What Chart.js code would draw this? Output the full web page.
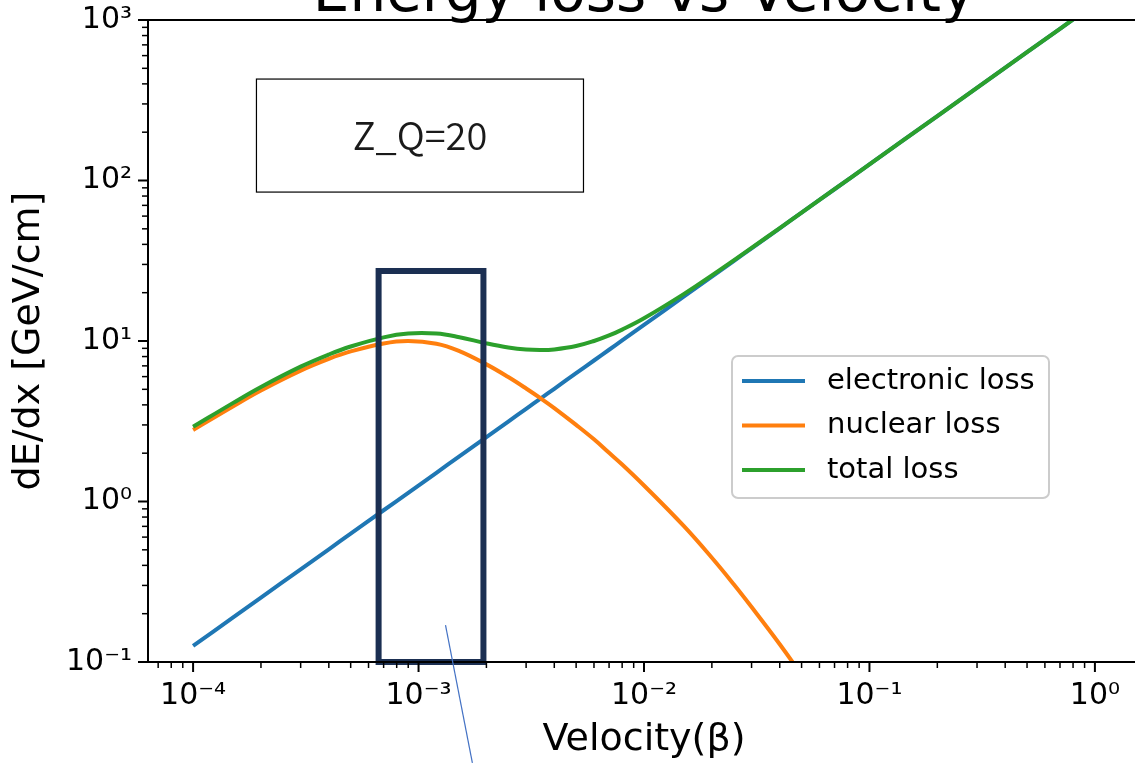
<!DOCTYPE html>
<html>
<head>
<meta charset="utf-8">
<script src="https://cdn.jsdelivr.net/npm/chart.js@4.4.1/dist/chart.umd.min.js"></script>
<style>
  html, body { margin: 0; padding: 0; background: #fff; overflow: hidden; }
  #wrap { width: 1140px; height: 763px; }
</style>
</head>
<body>
<div id="wrap"><canvas id="lossChart" width="1140" height="763"></canvas></div>
<script>
// velocity samples (beta) and the losses in GeV/cm
const beta = [1e-4, 1.5e-4, 2e-4, 3e-4, 4e-4, 5e-4, 7e-4, 9e-4, 1.2e-3, 1.5e-3, 2e-3, 2.5e-3,
  3e-3, 3.5e-3, 4e-3, 5e-3, 6e-3, 7e-3, 8e-3, 1e-2, 1.5e-2, 2e-2, 2.5e-2, 3e-2, 4e-2, 5e-2,
  7e-2, 0.1, 0.2, 0.5, 1.0];
const electronicLoss = [0.126, 0.189, 0.252, 0.378, 0.504, 0.63, 0.882, 1.13, 1.51, 1.89, 2.52, 3.15,
  3.78, 4.41, 5.04, 6.3, 7.56, 8.82, 10.08, 12.6, 18.9, 25.2, 31.5, 37.8, 50.4, 63,
  88.2, 126, 252, 630, 1260];
const nuclearLoss = [2.79, 3.91, 4.92, 6.54, 7.74, 8.61, 9.66, 10.0, 9.61, 8.71, 7.15, 5.96,
  5.06, 4.37, 3.82, 3.0, 2.44, 2.01, 1.70, 1.258, 0.704, 0.446, 0.305, 0.22, 0.129, 0.083,
  0.0414, 0.0195, 0.0047, 0.00075, 0.00019];
const totalLoss = [2.92, 4.10, 5.17, 6.92, 8.24, 9.24, 10.54, 11.13, 11.12, 10.60, 9.67, 9.11,
  8.84, 8.78, 8.86, 9.30, 10.0, 10.83, 11.78, 13.86, 19.60, 25.65, 31.81, 38.02, 50.53, 63.08,
  88.24, 126, 252, 630, 1260];

const seriesNames = ['electronic loss', 'nuclear loss', 'total loss'];
const seriesColors = ['#1f77b4', '#ff7f0e', '#2ca02c'];

const xTickValues = [1e-4, 1e-3, 1e-2, 1e-1, 1];
const xTickLabels = ['10⁻⁴', '10⁻³', '10⁻²', '10⁻¹', '10⁰'];
const yTickValues = [0.1, 1, 10, 100, 1000];
const yTickLabels = ['10⁻¹', '10⁰', '10¹', '10²', '10³'];

// highlight band, pointer stroke and the Z_Q note (data units)
const bandX = [6.65e-4, 1.94e-3];
const bandY = [0.1, 27.3];
const pointerX = [1.317e-3, 1.733e-3];
const pointerY = [0.170, 0.0235];
const noteX = [1.91e-4, 5.39e-3];
const noteY = [84.7, 428.6];
const noteText = 'Z_Q=20';
const titleText = 'Energy loss vs Velocity';

const toPoints = (ys) => beta.map((b, i) => ({ x: b, y: ys[i] }));

// spines, log ticks (major + minor), title, legend, annotations
const decorations = {
  id: 'decorations',
  afterDatasetsDraw(chart) {
    const ctx = chart.ctx, xs = chart.scales.x, ys = chart.scales.y;
    ctx.save();
    const l = xs.getPixelForValue(bandX[0]), r = xs.getPixelForValue(bandX[1]);
    const t = ys.getPixelForValue(bandY[1]), b = ys.getPixelForValue(bandY[0]);
    ctx.strokeStyle = '#1b2f52';
    ctx.lineWidth = 6;
    ctx.strokeRect(l, t, r - l, b - t);
    ctx.restore();
  },
  afterDraw(chart) {
    const ctx = chart.ctx, xs = chart.scales.x, ys = chart.scales.y, a = chart.chartArea;
    ctx.save();

    // spines
    ctx.strokeStyle = '#000';
    ctx.lineWidth = 2;
    ctx.beginPath();
    ctx.moveTo(a.left, a.top); ctx.lineTo(a.right, a.top);
    ctx.moveTo(a.left, a.top); ctx.lineTo(a.left, a.bottom);
    ctx.moveTo(a.left, a.bottom); ctx.lineTo(a.right, a.bottom);
    ctx.moveTo(a.right, a.top); ctx.lineTo(a.right, a.bottom);
    ctx.stroke();

    // ticks
    const tick = (px, len, w, horiz) => {
      ctx.lineWidth = w;
      ctx.beginPath();
      if (horiz) { ctx.moveTo(px, a.bottom); ctx.lineTo(px, a.bottom + len); }
      else { ctx.moveTo(a.left, px); ctx.lineTo(a.left - len, px); }
      ctx.stroke();
    };
    for (let e = -5; e <= 1; e++) {
      for (let m = 1; m <= 9; m++) {
        const v = m * Math.pow(10, e);
        if (v >= xs.min && v <= xs.max) tick(xs.getPixelForValue(v), m === 1 ? 10 : 6, m === 1 ? 2 : 1.5, true);
      }
    }
    for (let e = -1; e <= 3; e++) {
      for (let m = 1; m <= 9; m++) {
        const v = m * Math.pow(10, e);
        if (v >= ys.min && v <= ys.max * 1.0001) tick(ys.getPixelForValue(v), m === 1 ? 10 : 6, m === 1 ? 2 : 1.5, false);
      }
    }

    // title (clipped by the top of the figure)
    ctx.fillStyle = '#000';
    ctx.font = '58px "DejaVu Sans"';
    ctx.textAlign = 'center';
    ctx.textBaseline = 'alphabetic';
    ctx.fillText(titleText, (a.left + a.right) / 2, 11);

    // Z_Q note box
    const nl = xs.getPixelForValue(noteX[0]), nr = xs.getPixelForValue(noteX[1]);
    const nt = ys.getPixelForValue(noteY[1]), nb = ys.getPixelForValue(noteY[0]);
    ctx.fillStyle = '#fff';
    ctx.fillRect(nl, nt, nr - nl, nb - nt);
    ctx.strokeStyle = '#000';
    ctx.lineWidth = 1.2;
    ctx.strokeRect(nl, nt, nr - nl, nb - nt);
    ctx.fillStyle = '#1a1a1a';
    ctx.font = '350 38px "Noto Sans CJK JP"';
    ctx.textBaseline = 'middle';
    ctx.fillText(noteText, (nl + nr) / 2, (nt + nb) / 2);

    // legend
    const lx = 732, ly = 356, lw = 317, lh = 142;
    ctx.fillStyle = 'rgba(255,255,255,0.8)';
    ctx.strokeStyle = '#cccccc';
    ctx.lineWidth = 2;
    ctx.beginPath();
    ctx.roundRect(lx, ly, lw, lh, 6);
    ctx.fill();
    ctx.stroke();
    ctx.font = '29px "DejaVu Sans"';
    ctx.textAlign = 'left';
    ctx.textBaseline = 'middle';
    chart.data.datasets.forEach((ds, i) => {
      const yy = ly + 25 + i * 44.5;
      ctx.strokeStyle = ds.borderColor;
      ctx.lineWidth = 4;
      ctx.beginPath();
      ctx.moveTo(lx + 10, yy); ctx.lineTo(lx + 73, yy);
      ctx.stroke();
      ctx.fillStyle = '#000';
      ctx.fillText(ds.label, lx + 95, yy);
    });

    // thin pointer stroke
    ctx.strokeStyle = '#4472c4';
    ctx.lineWidth = 1.2;
    ctx.beginPath();
    ctx.moveTo(xs.getPixelForValue(pointerX[0]), ys.getPixelForValue(pointerY[0]));
    ctx.lineTo(xs.getPixelForValue(pointerX[1]), ys.getPixelForValue(pointerY[1]));
    ctx.stroke();

    ctx.restore();
  }
};

const lineStyle = { borderWidth: 4, pointRadius: 0, fill: false, tension: 0.4, clip: 0 };

new Chart(document.getElementById('lossChart').getContext('2d'), {
  type: 'line',
  data: {
    datasets: [
      { label: seriesNames[0], data: toPoints(electronicLoss), borderColor: seriesColors[0], order: 3, ...lineStyle },
      { label: seriesNames[1], data: toPoints(nuclearLoss), borderColor: seriesColors[1], order: 2, ...lineStyle },
      { label: seriesNames[2], data: toPoints(totalLoss), borderColor: seriesColors[2], order: 1, ...lineStyle }
    ]
  },
  options: {
    responsive: false,
    animation: false,
    events: [],
    layout: { padding: { top: 20, right: 0, left: 0, bottom: 0 } },
    plugins: { legend: { display: false }, tooltip: { enabled: false }, title: { display: false } },
    scales: {
      x: {
        type: 'logarithmic',
        min: Math.pow(10, -4.2),
        max: Math.pow(10, 0.2),
        grid: { display: false, drawTicks: false, tickLength: 0 },
        border: { display: false },
        afterBuildTicks: (s) => { s.ticks = xTickValues.map(v => ({ value: v })); },
        afterFit: (s) => { s.height = 101; s.paddingLeft = 0; s.paddingRight = 0; },
        ticks: {
          autoSkip: false, maxRotation: 0, padding: 16,
          color: '#000', font: { family: 'DejaVu Sans', size: 30 },
          callback: (v) => xTickLabels[xTickValues.findIndex(t => Math.abs(t - v) / t < 1e-6)]
        },
        title: { display: true, text: 'Velocity(β)', color: '#000', font: { family: 'DejaVu Sans', size: 38 }, padding: { top: 0, bottom: 0 } }
      },
      y: {
        type: 'logarithmic',
        min: 0.1,
        max: 1000,
        grid: { display: false, drawTicks: false, tickLength: 0 },
        border: { display: false },
        afterBuildTicks: (s) => { s.ticks = yTickValues.map(v => ({ value: v })); },
        afterFit: (s) => { s.width = 148; s.paddingTop = 0; s.paddingBottom = 0; },
        ticks: {
          autoSkip: false, padding: 16,
          color: '#000', font: { family: 'DejaVu Sans', size: 30 },
          callback: (v) => yTickLabels[yTickValues.findIndex(t => Math.abs(t - v) / t < 1e-6)]
        },
        title: { display: true, text: 'dE/dx [GeV/cm]', color: '#000', font: { family: 'DejaVu Sans', size: 38 }, padding: { top: 6, bottom: 0 } }
      }
    }
  },
  plugins: [decorations]
});
</script>
</body>
</html>
